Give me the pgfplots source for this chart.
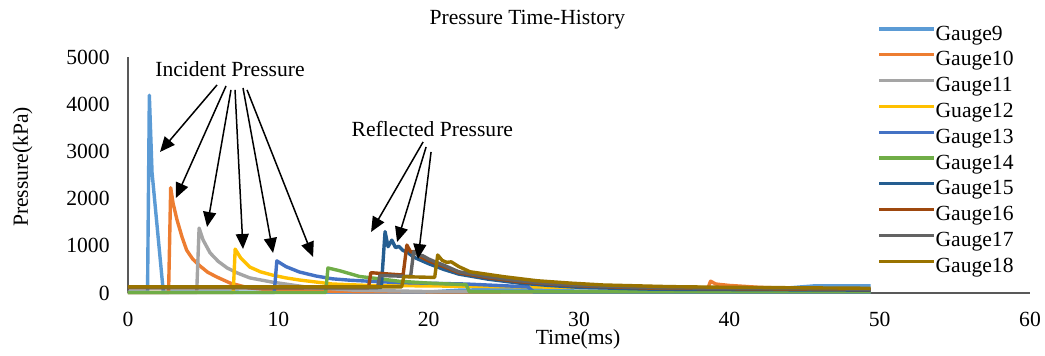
\documentclass[border=0pt]{standalone}
\usepackage{fontspec}
\setmainfont{Liberation Serif}
\usepackage{pgfplots}
\pgfplotsset{compat=1.18}
\usetikzlibrary{arrows.meta}
\newcommand\f{\fontsize{10.8}{13}\selectfont}
\definecolor{cA}{HTML}{5B9BD5}
\definecolor{cB}{HTML}{ED7D31}
\definecolor{cC}{HTML}{A5A5A5}
\definecolor{cD}{HTML}{FFC000}
\definecolor{cE}{HTML}{4472C4}
\definecolor{cF}{HTML}{70AD47}
\definecolor{cG}{HTML}{255E91}
\definecolor{cH}{HTML}{9E480E}
\definecolor{cI}{HTML}{636363}
\definecolor{cJ}{HTML}{997300}
\definecolor{axc}{HTML}{595959}
\begin{document}
\begin{tikzpicture}
\path[use as bounding box] (-64pt,-31.5pt) rectangle (458.5pt,146.5pt);
\begin{axis}[
  scale only axis, width=451pt, height=118pt,
  at={(0,0)}, anchor=south west,
  xmin=0, xmax=60, ymin=0, ymax=5000,
  xtick={0,10,...,60}, ytick={0,1000,...,5000},
  axis lines=left,
  axis line style={-, draw=axc, line width=0.9pt},
  major tick length=0pt,
  clip=false,
  font=\f,
  ticklabel style={font=\f},
  /pgf/number format/assume math mode=true,
  /pgf/number format/1000 sep={},
  yticklabel style={inner sep=0pt, anchor=east, xshift=-9pt},
  xticklabel style={inner sep=0pt, anchor=north, yshift=-9.35pt},
  xlabel={Time(ms)}, ylabel={Pressure(kPa)},
  every axis x label/.style={at={(axis description cs:0.4989,-0.2203)}, anchor=base, font=\f},
  every axis y label/.style={at={(axis description cs:-0.1109,0.534)}, anchor=base, rotate=90, font=\f},
  legend style={at={(axis description cs:0.8304,1.137)}, anchor=north west, draw=none, fill=none,
    inner sep=0pt, row sep=2.9pt, font=\f,
    nodes={inner sep=0pt, text height=7.5pt, text depth=2.5pt}},
  legend cell align=left,
  /tikz/every even column/.append style={column sep=2.5pt},
  legend image code/.code={\draw[#1, line width=1.6pt] (0pt,3pt) -- (27.5pt,3pt);},
  every axis plot/.append style={line width=1.7pt, line join=round},
]
\addplot[cA] coordinates {(0,20)(1.30,20)(1.42,4190)(1.60,2550)(2.35,20)(10,15)(20,20)(22,60)(26,80)(30,40)(35,40)(40,60)(44,110)(45.6,150)(49.4,150)};
\addlegendentry{Gauge9}
\addplot[cB] coordinates {(0,10)(2.70,10)(2.84,2230)(3.0,1900)(3.26,1550)(3.6,1180)(3.9,910)(4.3,720)(4.8,570)(5.3,440)(5.9,340)(6.8,210)(8,110)(10,50)(15,30)(20,25)(30,25)(38.5,40)(38.75,250)(39.1,190)(40,160)(42,120)(45,90)(49.4,70)};
\addlegendentry{Gauge10}
\addplot[cC] coordinates {(0,10)(4.57,10)(4.73,1375)(5.0,1120)(5.46,850)(6.0,670)(6.6,530)(7.3,420)(8.1,320)(9.6,230)(12,120)(15,60)(20,30)(30,20)(49.4,20)};
\addlegendentry{Gauge11}
\addplot[cD] coordinates {(0,10)(7.0,10)(7.13,930)(7.5,740)(8.1,550)(8.8,450)(9.6,380)(10.5,320)(11.4,275)(13.6,190)(16,160)(20,150)(26,130)(30,120)(38,120)(40,60)(49.4,50)};
\addlegendentry{Guage12}
\addplot[cE] coordinates {(0,10)(9.73,10)(9.9,680)(10.5,560)(11.4,445)(12.5,360)(13.6,300)(14.8,270)(16,250)(18,220)(22.5,190)(26.6,130)(27,20)(49.4,20)};
\addlegendentry{Gauge13}
\addplot[cF] coordinates {(0,10)(13.15,10)(13.3,530)(14.1,470)(15.4,350)(17,290)(18,250)(20,210)(22.5,175)(22.7,30)(49.4,30)};
\addlegendentry{Gauge14}
\addplot[cG] coordinates {(0,120)(16.85,120)(17.1,1300)(17.3,980)(17.55,1120)(17.8,960)(18.0,990)(18.3,900)(18.6,860)(19,760)(20,620)(21,500)(22,400)(24,290)(26,210)(28,160)(30,120)(35,80)(49.4,60)};
\addlegendentry{Gauge15}
\addplot[cH] coordinates {(0,110)(16.0,110)(16.15,430)(17,410)(18.3,380)(18.55,1015)(18.8,870)(19.1,880)(19.5,760)(20,680)(21,560)(22,430)(24,320)(26,240)(28,190)(30,150)(35,100)(49.4,70)};
\addlegendentry{Gauge16}
\addplot[cI] coordinates {(0,110)(16.6,110)(16.75,370)(18.8,350)(19.0,875)(19.3,800)(19.6,790)(20,720)(20.5,650)(21,590)(22,450)(24,340)(26,260)(28,200)(30,160)(35,110)(49.4,80)};
\addlegendentry{Gauge17}
\addplot[cJ] coordinates {(0,130)(18.2,130)(18.35,345)(20.4,330)(20.6,805)(20.9,690)(21.2,650)(21.5,660)(22,560)(22.75,450)(25,345)(27.2,260)(29.4,210)(31.6,170)(36,135)(40,120)(49.4,100)};
\addlegendentry{Gauge18}
% annotation arrows
\begin{scope}[black, line width=0.75pt, -{Triangle[length=7.5pt,width=6.5pt]}]
\draw (axis cs:5.92,4407) -- (axis cs:2.13,2988);
\draw (axis cs:6.52,4386) -- (axis cs:3.19,2013);
\draw (axis cs:6.85,4302) -- (axis cs:5.26,1399);
\draw (axis cs:7.12,4302) -- (axis cs:7.65,932);
\draw (axis cs:7.65,4344) -- (axis cs:9.65,848);
\draw (axis cs:7.92,4302) -- (axis cs:12.31,763);
\draw (axis cs:19.63,3200) -- (axis cs:16.17,1293);
\draw (axis cs:19.83,3094) -- (axis cs:17.90,1081);
\draw (axis cs:20.16,2988) -- (axis cs:19.29,720);
\end{scope}
\end{axis}
\node[anchor=base, inner sep=0pt, font=\f] at (199.7pt,134pt) {Pressure Time-History};
\node[anchor=base, inner sep=0pt, font=\f] at (51pt,108.2pt) {Incident Pressure};
\node[anchor=base, inner sep=0pt, font=\f] at (152.2pt,78.2pt) {Reflected Pressure};
\end{tikzpicture}
\end{document}
